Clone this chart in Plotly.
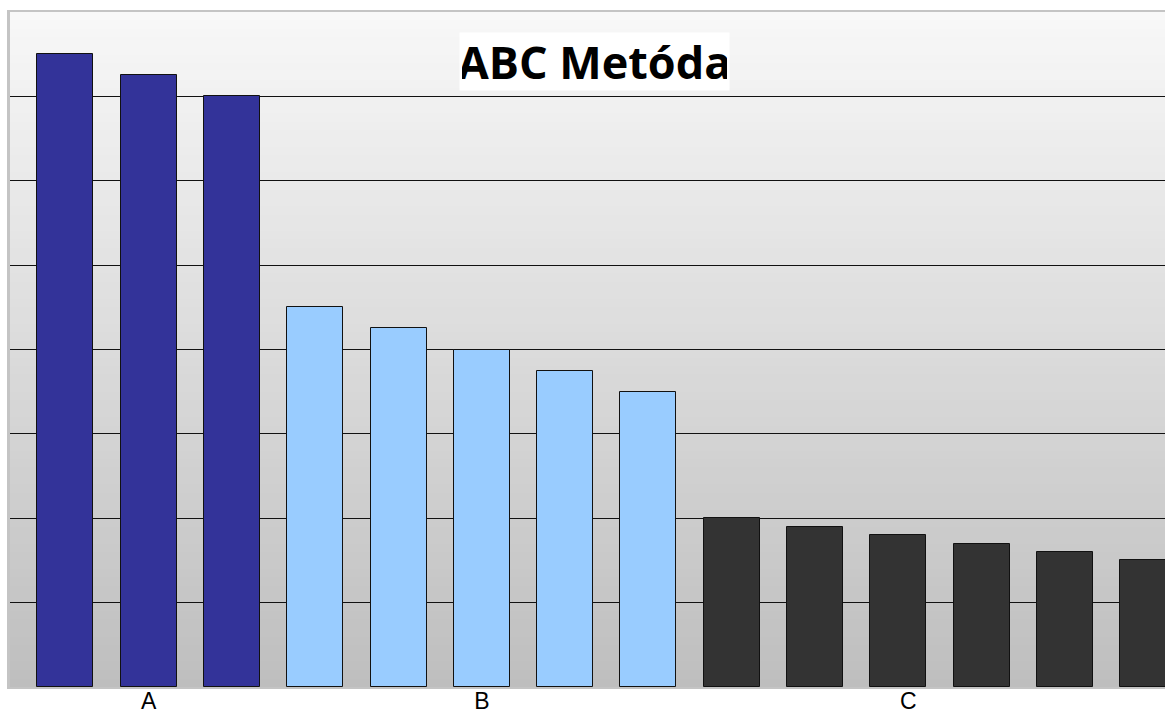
import plotly.graph_objects as go

# Item groups and their values
groups = ["A", "B", "C"]
values_a = [75, 72.5, 70]
values_b = [45, 42.5, 40, 37.5, 35]
values_c = [20, 19, 18, 17, 16, 15]
group_colors = ["#333399", "#99ccff", "#333333"]

series = [values_a, values_b, values_c]

fig = go.Figure()

# Consecutive bar positions across the three groups
start = 0
for name, vals, color in zip(groups, series, group_colors):
    xs = list(range(start, start + len(vals)))
    fig.add_trace(go.Bar(
        x=xs, y=vals, name=name, width=0.672,
        marker=dict(color=color, line=dict(color="#111111", width=1)),
        hoverinfo="x+y",
    ))
    start += len(vals)

# Vertical grey gradient behind the plot area
n_strips = 80
top_rgb = (248, 248, 248)
bot_rgb = (190, 190, 190)
for k in range(n_strips):
    t = (k + 0.5) / n_strips
    c = [round(bot_rgb[j] + (top_rgb[j] - bot_rgb[j]) * t) for j in range(3)]
    fig.add_shape(
        type="rect", xref="x domain", yref="y domain",
        x0=0, x1=1, y0=k / n_strips, y1=(k + 1) / n_strips + 0.002,
        fillcolor=f"rgb({c[0]},{c[1]},{c[2]})", line=dict(width=0),
        layer="below",
    )

fig.add_annotation(
    text="<b>ABC Metóda</b>", xref="paper", yref="paper",
    x=0.5059, y=0.927, xanchor="center", yanchor="middle",
    showarrow=False, bgcolor="white", width=265, height=53, borderpad=2,
    font=dict(family="Open Sans", size=45, color="black"),
)

fig.update_layout(
    width=1165, height=713,
    margin=dict(l=10, r=0, t=12, b=26, pad=0, autoexpand=False),
    paper_bgcolor="white", plot_bgcolor="rgba(0,0,0,0)",
    showlegend=False, bargap=0,
    font=dict(family="Liberation Sans, Arial", color="black"),
)
fig.update_xaxes(
    range=[-0.664, 13.2], tickmode="array",
    tickvals=[1, 5, 10.12], ticktext=groups,
    tickfont=dict(size=23), ticks="", showgrid=False, zeroline=False,
    ticklabelstandoff=-8,
    showline=True, linecolor="#c4c4c4", linewidth=2, mirror=True,
    automargin=False,
)
fig.update_yaxes(
    range=[0, 80], tickmode="array", tickvals=[10, 20, 30, 40, 50, 60, 70],
    showticklabels=False, ticks="", showgrid=True, gridcolor="#111111",
    gridwidth=1, zeroline=False, automargin=False,
    showline=True, linecolor="#c4c4c4", linewidth=3,
)

fig.write_html("out.html")
